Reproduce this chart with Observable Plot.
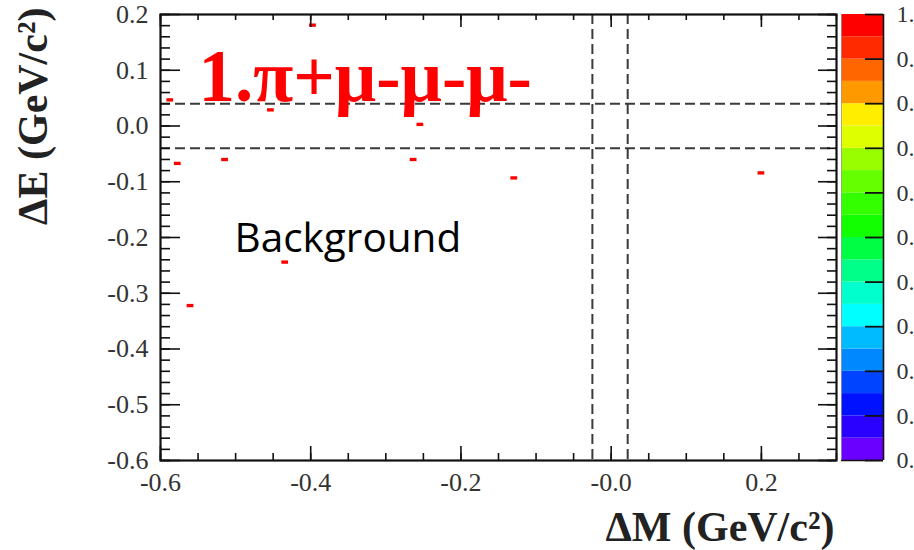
<!DOCTYPE html>
<html><head><meta charset="utf-8">
<script src="https://cdn.jsdelivr.net/npm/d3@7"></script>
<script src="https://cdn.jsdelivr.net/npm/@observablehq/plot@0.6"></script>
<style>
html,body{margin:0;padding:0;background:#fff;overflow:hidden;}
#wrap{position:relative;width:914px;height:550px;overflow:hidden;}
#wrap svg{position:absolute;top:0;}
</style></head><body><div id="wrap"></div>
<script>
// ---- data ----
const dM = [-0.397, -0.587, -0.453, -0.254, -0.577, -0.514, -0.263, -0.129, 0.200, -0.560, -0.434];
const dE = [0.180, 0.046, 0.028, 0.002, -0.068, -0.061, -0.061, -0.094, -0.085, -0.323, -0.245];
const binContent = [1, 1, 1, 1, 1, 1, 1, 1, 1, 1, 1];
const binW = 0.009, binH = 0.006;

const xTicks = [-0.6, -0.4, -0.2, 0.0, 0.2];
const xTickLabels = ["-0.6", "-0.4", "-0.2", "-0.0", "0.2"];
const yTicks = [-0.6, -0.5, -0.4, -0.3, -0.2, -0.1, 0.0, 0.1, 0.2];
const yTickLabels = ["-0.6", "-0.5", "-0.4", "-0.3", "-0.2", "-0.1", "0.0", "0.1", "0.2"];
const xMinor = d3.range(0, 19).map(i => -0.6 + i * 0.05);
const yMinor = d3.range(0, 41).map(i => -0.6 + i * 0.02);

const cutM = [-0.025, 0.022];
const cutE = [-0.04, 0.04];

// colour palette, bottom (0) to top (1)
const paletteColors = ["#6a00ff", "#2a00ff", "#0011ff", "#0044ff", "#0088ff", "#00bbff", "#00ffff", "#00ffcc", "#00ff88", "#00ff44",
                       "#11ff00", "#33ff00", "#66ff00", "#99ff00", "#ddff00", "#ffee00", "#ff9900", "#ff6600", "#ff2a00", "#ff0000"];
const zTicks = [0, 0.1, 0.2, 0.3, 0.4, 0.5, 0.6, 0.7, 0.8, 0.9, 1.0];
const zTickLabels = ["0.0", "0.1", "0.2", "0.3", "0.4", "0.5", "0.6", "0.7", "0.8", "0.9", "1.0"];

const title = "1.π+μ-μ-μ-";
const note = "Background";
const xTitle = "ΔM (GeV/c²)";
const yTitle = "ΔE (GeV/c²)";

// ---- layout ----
const W = 914, H = 550, mL = 160, mR = 78, mT = 14, mB = 90;
const fw = W - mL - mR, fh = H - mT - mB;
const serif = "Liberation Serif, Times New Roman, serif";

const rows = dM.map((x, i) => ({x, y: dE[i], z: binContent[i]}));
const colorOf = d3.scaleQuantize().domain([0, 1]).range(paletteColors);
const dashed = {stroke: "#3a3a3a", strokeWidth: 2, strokeDasharray: "10,5"};
const tk = {stroke: "#111", strokeWidth: 1.6};

const main = Plot.plot({
  width: W, height: H, marginLeft: mL, marginRight: mR, marginTop: mT, marginBottom: mB,
  x: {domain: [-0.6, 0.3], axis: null},
  y: {domain: [-0.6, 0.2], axis: null},
  style: {fontFamily: serif, background: "transparent"},
  marks: [
    Plot.rect(rows, {x1: d => d.x - binW / 2, x2: d => d.x + binW / 2, y1: d => d.y - binH / 2, y2: d => d.y + binH / 2,
                     fill: d => colorOf(Math.min(d.z, 0.999))}),
    Plot.ruleY(cutE, dashed),
    Plot.ruleX(cutM, dashed),
    Plot.tickX(xMinor, {x: d => d, insetTop: fh - 7, ...tk}),
    Plot.tickX(xTicks, {x: d => d, insetTop: fh - 14, ...tk}),
    Plot.tickX(xMinor, {x: d => d, insetBottom: fh - 6, ...tk}),
    Plot.tickX(xTicks, {x: d => d, insetBottom: fh - 13, ...tk}),
    Plot.tickY(yMinor, {y: d => d, insetRight: fw - 10, ...tk}),
    Plot.tickY(yTicks, {y: d => d, insetRight: fw - 20, ...tk}),
    Plot.tickY(yMinor, {y: d => d, insetLeft: fw - 9, ...tk}),
    Plot.tickY(yTicks, {y: d => d, insetLeft: fw - 18, ...tk}),
    Plot.frame({stroke: "#111", strokeWidth: 2.2}),
    Plot.axisX(xTicks, {tickSize: 0, tickPadding: 12, fontSize: 26, fill: "#333",
                        tickFormat: d => xTickLabels[xTicks.indexOf(d)], label: null}),
    Plot.axisY(yTicks, {tickSize: 0, tickPadding: 12, fontSize: 26, fill: "#333",
                        tickFormat: d => yTickLabels[yTicks.indexOf(d)], label: null}),
    Plot.text([title], {frameAnchor: "top-left", dx: 38, dy: 86, lineAnchor: "bottom", textAnchor: "start",
                        fontSize: 73, fontWeight: "bold", fill: "#ff0000"}),
    Plot.text([note], {frameAnchor: "top-left", dx: 74, dy: 237, lineAnchor: "bottom", textAnchor: "start",
                       fontSize: 40.5, fill: "#000", fontFamily: "Open Sans"}),
    Plot.text([xTitle], {frameAnchor: "bottom-right", dx: -2, dy: 67, lineAnchor: "middle", textAnchor: "end",
                         fontSize: 42, fontWeight: "bold", fill: "#222"}),
    Plot.text([yTitle], {frameAnchor: "top-left", dx: -127, dy: -7, rotate: -90, lineAnchor: "middle", textAnchor: "end",
                         fontSize: 42, fontWeight: "bold", fill: "#222"})
  ]
});

// colour bar (labels run off the right edge, as in the reference)
const bands = paletteColors.map((c, i) => ({lo: i / paletteColors.length, hi: (i + 1) / paletteColors.length, c}));
const cbLeft = 830, cbW = 84;
const bar = Plot.plot({
  width: cbW, height: H, marginLeft: 11, marginRight: cbW - 53, marginTop: mT, marginBottom: mB,
  x: {domain: [0, 1], axis: null},
  y: {domain: [0, 1], axis: null},
  style: {fontFamily: serif, background: "transparent"},
  marks: [
    Plot.rect(bands, {x1: 0, x2: 1, y1: "lo", y2: "hi", fill: "c"}),
    Plot.ruleX([0], {stroke: "#999", strokeWidth: 0.8}),
    Plot.ruleX([1], {stroke: "#111", strokeWidth: 1.6}),
    Plot.ruleY([0], {stroke: "#111", strokeWidth: 1.6}),
    Plot.tickY(zTicks, {y: d => d, insetLeft: 24, stroke: "#111", strokeWidth: 1.8}),
    Plot.axisY(zTicks, {anchor: "right", tickSize: 0, tickPadding: 13, fontSize: 24, fill: "#333",
                        tickFormat: d => zTickLabels[zTicks.indexOf(d)], label: null})
  ]
});

const wrap = document.getElementById("wrap");
main.style.left = "0px";
bar.style.left = cbLeft + "px";
wrap.appendChild(main);
wrap.appendChild(bar);
</script></body></html>
